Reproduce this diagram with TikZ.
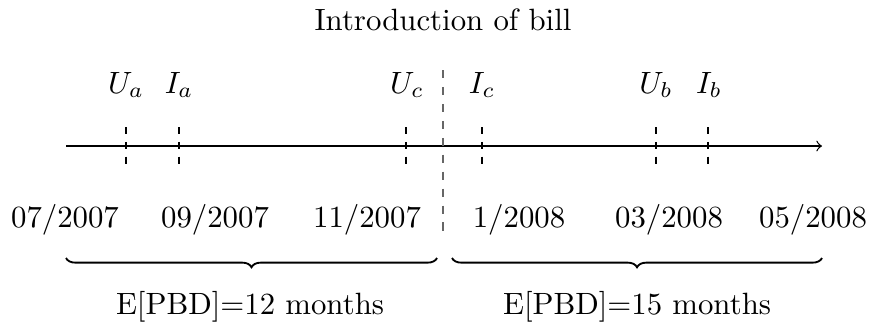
\documentclass[tikz,border=0pt]{standalone}
\usetikzlibrary{decorations.pathreplacing}
\begin{document}
\begin{tikzpicture}[x=0.3247pt,y=-0.3247pt,
  lbl/.style={anchor=base,inner sep=0pt},
  tickline/.style={black,dash pattern=on 2.4pt off 2.4pt,line width=0.4pt},
  billline/.style={black!60,dash pattern=on 2.75pt off 2.75pt,line width=0.5pt},
  bracestyle/.style={decorate,decoration={brace,mirror,amplitude=3pt},line width=0.6pt}]
\useasboundingbox (0,0) rectangle (877,325);
% axis
\coordinate (axs) at (66,146);
\coordinate (axe) at (822,146);
\draw[->,line width=0.4pt] (axs) -- (axe);
% ticks
\foreach \n/\x in {ua/126,ia/179,uc/406,ic/482,ub/656,ib/708}{
  \coordinate (\n t) at (\x,127);
  \coordinate (\n b) at (\x,165);
  \draw[tickline] (\n t) -- (\n b);
}
% top labels
\node[lbl] (Ua) at (126,93) {$U_a$};
\node[lbl] (Ia) at (179,93) {$I_a$};
\node[lbl] (Uc) at (407,93) {$U_c$};
\node[lbl] (Ic) at (482,93) {$I_c$};
\node[lbl] (Ub) at (656,93) {$U_b$};
\node[lbl] (Ib) at (709,93) {$I_b$};
% introduction of bill
\node[lbl] (intro) at (443,30) {Introduction of bill};
\coordinate (billt) at (443,70);
\coordinate (billb) at (443,231);
\draw[billline] (billt) -- (billb);
% dates
\node[lbl] (d1) at (65,227) {$07/2007$};
\node[lbl] (d2) at (215,227) {$09/2007$};
\node[lbl] (d3) at (367,227) {$11/2007$};
\node[lbl] (d4) at (519,227) {$1/2008$};
\node[lbl] (d5) at (669,227) {$03/2008$};
\node[lbl] (d6) at (813,227) {$05/2008$};
% braces
\coordinate (b1s) at (66,258);
\coordinate (b1e) at (437,258);
\coordinate (b2s) at (452,258);
\coordinate (b2e) at (822,258);
\draw[bracestyle] (b1s) -- (b1e);
\draw[bracestyle] (b2s) -- (b2e);
\node[lbl] (e1) at (250,314) {E[PBD]=12 months};
\node[lbl] (e2) at (637,314) {E[PBD]=15 months};
\end{tikzpicture}
\end{document}
